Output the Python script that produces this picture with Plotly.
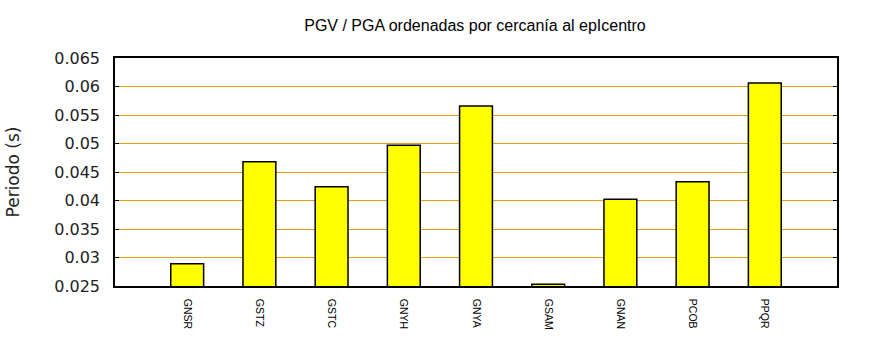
import plotly.graph_objects as go

# Stations ordered by distance to the epicentre
estaciones = ["GNSR", "GSTZ", "GSTC", "GNYH", "GNYA", "GSAM", "GNAN", "PCOB", "PPQR"]
# PGV / PGA ratio (s)
periodo = [0.0289, 0.0468, 0.0424, 0.0497, 0.0566, 0.0253, 0.0402, 0.0433, 0.0606]

fig = go.Figure(
    go.Bar(
        x=estaciones,
        y=periodo,
        width=0.455,
        marker=dict(color="#FFFF00", line=dict(color="black", width=1.5)),
    )
)

fig.update_layout(
    width=870,
    height=350,
    margin=dict(l=113, r=33, t=58, b=64),
    paper_bgcolor="white",
    plot_bgcolor="white",
    showlegend=False,
    title=dict(
        text="PGV / PGA ordenadas por cercanía al epIcentro",
        x=(113 + 837) / 2 / 870,
        xanchor="center",
        y=1 - 25 / 350,
        yanchor="middle",
        font=dict(family="Liberation Sans, Arial, sans-serif", size=16, color="black"),
    ),
)

fig.update_xaxes(
    type="category",
    range=[-1, 9],
    showgrid=False,
    showline=True,
    linecolor="black",
    linewidth=1.5,
    mirror=True,
    ticks="",
    tickangle=90,
    tickfont=dict(family="Liberation Sans, Arial, sans-serif", size=10.5, color="black"),
    ticklabelstandoff=9,
)

fig.update_yaxes(
    range=[0.025, 0.065],
    tickvals=[0.025, 0.03, 0.035, 0.04, 0.045, 0.05, 0.055, 0.06, 0.065],
    ticktext=["0.025", "0.03", "0.035", "0.04", "0.045", "0.05", "0.055", "0.06", "0.065"],
    showgrid=True,
    gridcolor="#E0A010",
    gridwidth=1,
    zeroline=False,
    showline=True,
    linecolor="black",
    linewidth=1.5,
    mirror="ticks",
    ticks="inside",
    ticklen=4,
    tickcolor="black",
    tickwidth=1,
    tickfont=dict(family="DejaVu Sans, sans-serif", size=16, color="#222222"),
    ticklabelstandoff=10,
    title=dict(
        text="Periodo (s)",
        font=dict(family="DejaVu Sans, sans-serif", size=17, color="#222222"),
        standoff=30,
    ),
)

fig.write_html("out.html")
